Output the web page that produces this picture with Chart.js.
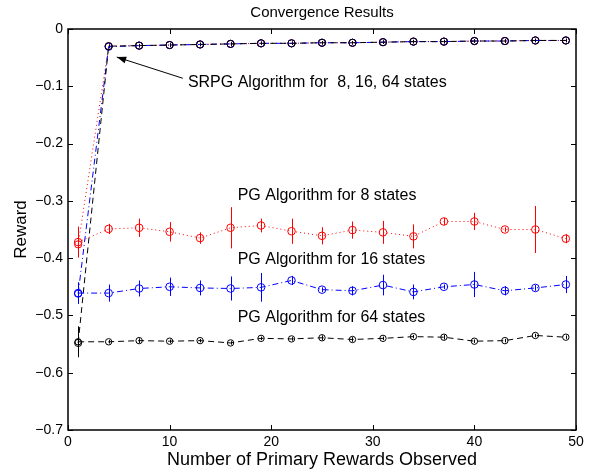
<!DOCTYPE html>
<html>
<head>
<meta charset="utf-8">
<script src="https://cdn.jsdelivr.net/npm/chart.js@4"></script>
<style>
  html, body { margin: 0; padding: 0; background: #fff; }
</style>
</head>
<body>
<canvas id="convChart" width="597" height="472"></canvas>
<script>
// Données
const xSteps = [1, 4, 7, 10, 13, 16, 19, 22, 25, 28, 31, 34, 37, 40, 43, 46, 49];

const pg8 = [-0.372, -0.349, -0.347, -0.354, -0.365, -0.347, -0.343, -0.353, -0.361, -0.351, -0.355, -0.362, -0.336, -0.336, -0.350, -0.350, -0.366];
const pg8Err = [0.027, 0.009, 0.016, 0.017, 0.010, 0.036, 0.012, 0.022, 0.015, 0.015, 0.020, 0.021, 0.006, 0.015, 0.004, 0.041, 0.008];

const pg16 = [-0.461, -0.461, -0.453, -0.450, -0.452, -0.453, -0.451, -0.439, -0.455, -0.457, -0.447, -0.459, -0.450, -0.446, -0.457, -0.452, -0.446];
const pg16Err = [0.019, 0.015, 0.014, 0.016, 0.013, 0.021, 0.025, 0.008, 0.004, 0.008, 0.018, 0.013, 0.004, 0.022, 0.008, 0.005, 0.015];

const pg64 = [-0.546, -0.546, -0.544, -0.545, -0.544, -0.548, -0.540, -0.541, -0.539, -0.542, -0.540, -0.537, -0.538, -0.545, -0.544, -0.535, -0.538];
const pg64Err = [0.027, 0.003, 0.004, 0.003, 0.003, 0.003, 0.003, 0.003, 0.004, 0.004, 0.003, 0.003, 0.004, 0.003, 0.003, 0.003, 0.003];

const srpg8 = [-0.376, -0.030, -0.029, -0.028, -0.027, -0.026, -0.025, -0.025, -0.024, -0.024, -0.023, -0.022, -0.022, -0.021, -0.021, -0.020, -0.020];
const srpg16 = [-0.462, -0.031, -0.029, -0.028, -0.027, -0.026, -0.025, -0.025, -0.024, -0.024, -0.023, -0.022, -0.022, -0.021, -0.021, -0.020, -0.020];
const srpg64 = [-0.548, -0.030, -0.029, -0.028, -0.027, -0.026, -0.025, -0.025, -0.024, -0.024, -0.023, -0.022, -0.022, -0.021, -0.021, -0.020, -0.020];
const srpgErr = [0.003, 0.003, 0.003, 0.003, 0.003, 0.003, 0.003, 0.003, 0.003, 0.003, 0.003, 0.003, 0.003, 0.003, 0.003, 0.003, 0.003];

const xTicks = [0, 10, 20, 30, 40, 50];
const yTicks = [0, -0.1, -0.2, -0.3, -0.4, -0.5, -0.6, -0.7];

const FONT = '"Liberation Sans", Arial, Helvetica, sans-serif';

// Textes des annotations (coordonnées en unités des axes)
const notes = [
    { text: 'SRPG Algorithm for  8, 16, 64 states', x: 11.8, y: -0.094 },
    { text: 'PG Algorithm for 8 states', x: 16.7, y: -0.291 },
    { text: 'PG Algorithm for 16 states', x: 16.7, y: -0.403 },
    { text: 'PG Algorithm for 64 states', x: 16.7, y: -0.503 },
];
const arrow = { fromX: 11.3, fromY: -0.086, toX: 4.8, toY: -0.049 };

function toPoints(ys) {
    return xSteps.map((x, i) => ({ x: x, y: ys[i] }));
}

function series(label, ys, errs, color, dash, order, radius) {
    return {
        label: label,
        data: toPoints(ys),
        errors: errs,
        borderColor: color,
        backgroundColor: 'rgba(0, 0, 0, 0)',
        borderWidth: 1,
        borderDash: dash,
        showLine: true,
        tension: 0,
        pointStyle: 'circle',
        pointRadius: radius,
        pointBorderWidth: 1,
        pointBorderColor: color,
        pointBackgroundColor: 'rgba(0, 0, 0, 0)',
        order: order,
    };
}

const RED = 'rgb(255, 0, 0)';
const BLUE = 'rgb(0, 0, 255)';
const BLACK = 'rgb(0, 0, 0)';
const DOT = [1, 3];
const DASHDOT = [6, 3, 1, 3];
const DASH = [6, 4];

// Barres d'erreur, cadre, graduations internes et annotations
const matlabLook = {
    id: 'matlabLook',
    beforeDatasetsDraw(chart) {
        const ctx = chart.ctx;
        const xs = chart.scales.x, ys = chart.scales.y;
        ctx.save();
        chart.data.datasets.forEach(ds => {
            if (!ds.errors) return;
            ctx.strokeStyle = ds.borderColor;
            ctx.lineWidth = 1;
            ds.data.forEach((p, i) => {
                const e = ds.errors[i];
                const px = Math.round(xs.getPixelForValue(p.x)) + 0.5;
                ctx.beginPath();
                ctx.moveTo(px, ys.getPixelForValue(p.y - e));
                ctx.lineTo(px, ys.getPixelForValue(p.y + e));
                ctx.stroke();
            });
        });
        ctx.restore();
    },
    afterDraw(chart) {
        const ctx = chart.ctx;
        const a = chart.chartArea;
        const xs = chart.scales.x, ys = chart.scales.y;
        ctx.save();
        ctx.strokeStyle = '#000';
        ctx.lineWidth = 1.5;
        ctx.strokeRect(a.left, a.top, a.right - a.left, a.bottom - a.top);
        ctx.lineWidth = 1;
        const tl = 5;
        xTicks.forEach(v => {
            const px = Math.round(xs.getPixelForValue(v)) + 0.5;
            ctx.beginPath();
            ctx.moveTo(px, a.bottom); ctx.lineTo(px, a.bottom - tl);
            ctx.moveTo(px, a.top); ctx.lineTo(px, a.top + tl);
            ctx.stroke();
        });
        yTicks.forEach(v => {
            const py = Math.round(ys.getPixelForValue(v)) + 0.5;
            ctx.beginPath();
            ctx.moveTo(a.left, py); ctx.lineTo(a.left + tl, py);
            ctx.moveTo(a.right, py); ctx.lineTo(a.right - tl, py);
            ctx.stroke();
        });

        // titre
        ctx.fillStyle = '#000';
        ctx.font = '15px ' + FONT;
        ctx.textAlign = 'center';
        ctx.textBaseline = 'middle';
        ctx.fillText('Convergence Results', (a.left + a.right) / 2, 13);

        // annotations
        ctx.font = '16px ' + FONT;
        ctx.textAlign = 'left';
        notes.forEach(n => {
            ctx.fillText(n.text, xs.getPixelForValue(n.x), ys.getPixelForValue(n.y));
        });

        // flèche
        const x0 = xs.getPixelForValue(arrow.fromX), y0 = ys.getPixelForValue(arrow.fromY);
        const x1 = xs.getPixelForValue(arrow.toX), y1 = ys.getPixelForValue(arrow.toY);
        const ang = Math.atan2(y1 - y0, x1 - x0);
        ctx.beginPath();
        ctx.moveTo(x0, y0); ctx.lineTo(x1, y1);
        ctx.stroke();
        ctx.beginPath();
        ctx.moveTo(x1, y1);
        ctx.lineTo(x1 - 10 * Math.cos(ang - 0.35), y1 - 10 * Math.sin(ang - 0.35));
        ctx.lineTo(x1 - 10 * Math.cos(ang + 0.35), y1 - 10 * Math.sin(ang + 0.35));
        ctx.closePath();
        ctx.fill();
        ctx.restore();
    }
};

new Chart(document.getElementById('convChart'), {
    type: 'scatter',
    data: {
        datasets: [
            series('SRPG 8 states', srpg8, srpgErr, RED, DOT, 5, 3.6),
            series('SRPG 16 states', srpg16, srpgErr, BLUE, DASHDOT, 4, 3.6),
            series('SRPG 64 states', srpg64, srpgErr, BLACK, DASH, 3, 3.6),
            series('PG 8 states', pg8, pg8Err, RED, DOT, 2, 3.8),
            series('PG 16 states', pg16, pg16Err, BLUE, DASHDOT, 1, 3.8),
            series('PG 64 states', pg64, pg64Err, BLACK, DASH, 0, 3.2),
        ]
    },
    options: {
        responsive: false,
        animation: false,
        layout: { padding: { top: 29, right: 21, left: 0, bottom: 0 } },
        plugins: {
            legend: { display: false },
            tooltip: { enabled: false },
        },
        scales: {
            x: {
                type: 'linear',
                min: 0,
                max: 50,
                afterBuildTicks: s => { s.ticks = xTicks.map(v => ({ value: v })); },
                afterFit: s => { s.height = 42; },
                grid: { display: false, drawTicks: false },
                border: { display: false },
                ticks: { padding: 4, color: '#000', font: { family: FONT, size: 14 }, maxRotation: 0 },
                title: { display: true, text: 'Number of Primary Rewards Observed', color: '#000',
                         font: { family: FONT, size: 18 }, padding: { top: 0, bottom: 1 } },
            },
            y: {
                type: 'linear',
                min: -0.7,
                max: 0,
                afterBuildTicks: s => { s.ticks = yTicks.map(v => ({ value: v })); },
                afterFit: s => { s.width = 68; },
                grid: { display: false, drawTicks: false },
                border: { display: false },
                ticks: {
                    padding: 5, color: '#000', font: { family: FONT, size: 14 },
                    callback: v => (Math.abs(v) < 1e-9 ? '0' : v.toFixed(1).replace('-', '\u2212')),
                },
                title: { display: true, text: 'Reward', color: '#000',
                         font: { family: FONT, size: 17 }, padding: { top: 11, bottom: 0 } },
            }
        }
    },
    plugins: [matlabLook]
});
</script>
</body>
</html>
